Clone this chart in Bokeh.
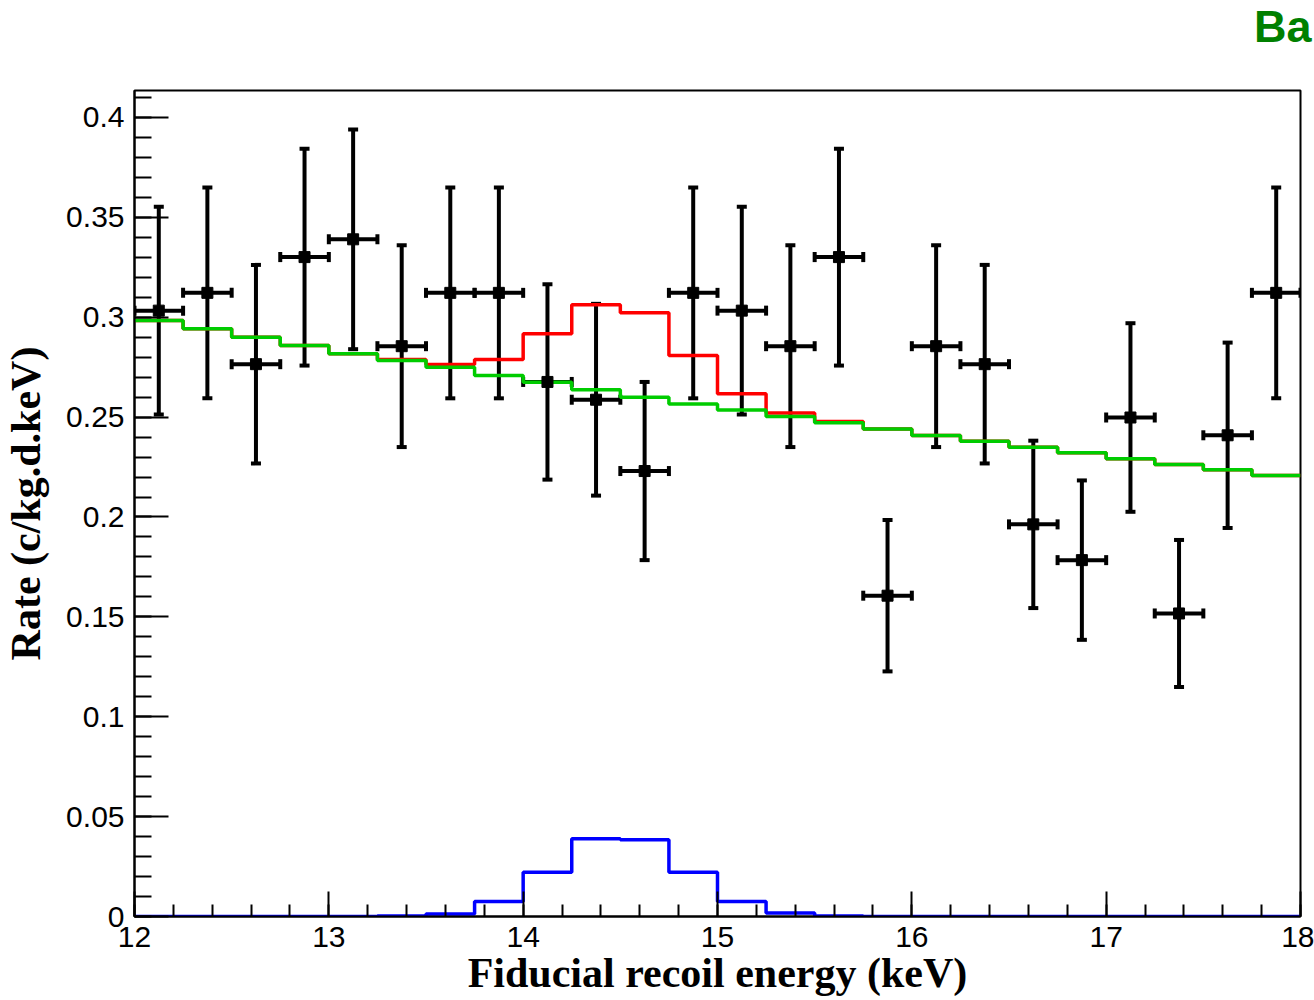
import numpy as np
from bokeh.plotting import figure
from bokeh.models import FixedTicker, Whisker, TeeHead, ColumnDataSource, Range1d, Title
from bokeh.embed import file_html
from bokeh.resources import INLINE

# ---- data ----
energy = [12.125, 12.375, 12.625, 12.875, 13.125, 13.375, 13.625, 13.875,
          14.125, 14.375, 14.625, 14.875, 15.125, 15.375, 15.625, 15.875,
          16.125, 16.375, 16.625, 16.875, 17.125, 17.375, 17.625, 17.875]
rate = [0.3033, 0.3122, 0.2765, 0.3301, 0.3390, 0.2855, 0.3122, 0.3122,
        0.2676, 0.2587, 0.2230, 0.3122, 0.3033, 0.2855, 0.3301, 0.1606,
        0.2855, 0.2765, 0.1963, 0.1784, 0.2498, 0.1517, 0.2409, 0.3122]
rate_err = [0.0520, 0.0528, 0.0497, 0.0543, 0.0550, 0.0505, 0.0528, 0.0528,
            0.0489, 0.0480, 0.0446, 0.0528, 0.0520, 0.0505, 0.0543, 0.0379,
            0.0505, 0.0497, 0.0419, 0.0399, 0.0472, 0.0368, 0.0464, 0.0528]
bin_half = 0.125

bin_edges = [12.0, 12.25, 12.5, 12.75, 13.0, 13.25, 13.5, 13.75, 14.0, 14.25,
             14.5, 14.75, 15.0, 15.25, 15.5, 15.75, 16.0, 16.25, 16.5, 16.75,
             17.0, 17.25, 17.5, 17.75, 18.0]
background = [0.2984, 0.2942, 0.2900, 0.2859, 0.2817, 0.2783, 0.2750, 0.2708,
              0.2675, 0.2637, 0.2600, 0.2566, 0.2536, 0.2503, 0.2472, 0.2440,
              0.2408, 0.2379, 0.2349, 0.2321, 0.2291, 0.2263, 0.2236, 0.2208]
signal = [0.0, 0.0, 0.0, 0.0, 0.0, 0.0003, 0.0013, 0.0075,
          0.0222, 0.0389, 0.0384, 0.0222, 0.0075, 0.0017, 0.0003, 0.0,
          0.0, 0.0, 0.0, 0.0, 0.0, 0.0, 0.0, 0.0]
total = [0.2984, 0.2942, 0.2900, 0.2859, 0.2817, 0.2788, 0.2763, 0.2788,
         0.2917, 0.3062, 0.3022, 0.2808, 0.2617, 0.2520, 0.2478, 0.2440,
         0.2408, 0.2379, 0.2349, 0.2321, 0.2291, 0.2263, 0.2236, 0.2208]

y_major = [0, 0.05, 0.1, 0.15, 0.2, 0.25, 0.3, 0.35, 0.4]
y_major_labels = ["0", "0.05", "0.1", "0.15", "0.2", "0.25", "0.3", "0.35", "0.4"]
y_minor = [round(0.01 * i, 2) for i in range(0, 42)]
x_major = [12, 13, 14, 15, 16, 17, 18]
x_minor = [round(12 + 0.2 * i, 1) for i in range(0, 31)]
title_text = "Ba"

# ---- figure ----
p = figure(width=1314, height=1000, output_backend="svg", toolbar_location=None,
           title=None,
           x_range=Range1d(12, 18), y_range=Range1d(0, 0.4135),
           min_border_left=132, min_border_right=14, min_border_top=90, min_border_bottom=84)
p.background_fill_color = "white"
p.border_fill_color = "white"
p.grid.visible = False
p.outline_line_color = "black"
p.outline_line_width = 2

tick_font = "Liberation Sans"
lab_font = "Liberation Serif"

# spacer panel next to the frame, then the green title fragment above it
p.add_layout(Title(text=" ", text_font_size="2px", standoff=33), "above")
p.add_layout(Title(text=title_text, align="right", offset=-11, vertical_align="top",
                   text_font=tick_font, text_font_style="bold", text_font_size="45px",
                   text_color="#008000", standoff=0), "above")

p.yaxis.ticker = FixedTicker(ticks=y_major, minor_ticks=y_minor)
p.yaxis.major_label_overrides = {t: s for t, s in zip(y_major, y_major_labels)}
p.xaxis.ticker = FixedTicker(ticks=x_major, minor_ticks=x_minor)
for ax in (p.xaxis[0], p.yaxis[0]):
    ax.axis_line_width = 2
    ax.axis_line_color = "black"
    ax.major_tick_out = 0
    ax.minor_tick_out = 0
    ax.major_tick_line_width = 2
    ax.minor_tick_line_width = 2
    ax.major_tick_line_color = "black"
    ax.minor_tick_line_color = "black"
    ax.major_label_text_font = tick_font
    ax.major_label_text_font_size = "30px"
    ax.major_label_text_color = "black"
    ax.axis_label_text_font = lab_font
    ax.axis_label_text_font_style = "bold"
    ax.axis_label_text_color = "black"

p.yaxis.major_tick_in = 34
p.yaxis.minor_tick_in = 17
p.xaxis.major_tick_in = 25
p.xaxis.minor_tick_in = 12
p.yaxis.major_label_standoff = 10
p.xaxis.major_label_standoff = 10
p.yaxis.axis_label = "Rate (c/kg.d.keV)"
p.yaxis.axis_label_text_font_size = "42px"
p.yaxis.axis_label_standoff = 14
p.xaxis.axis_label = "Fiducial recoil energy (keV)"
p.xaxis.axis_label_text_font_size = "42px"
p.xaxis.axis_label_standoff = 0

# ---- histograms ----
p.step(bin_edges, total + [total[-1]], mode="after", line_color="#ff0000", line_width=3.5)
p.step(bin_edges, background + [background[-1]], mode="after", line_color="#00cc00", line_width=3.5)
p.step(bin_edges, signal + [signal[-1]], mode="after", line_color="#0000ff", line_width=3.5)

# ---- data points ----
src = ColumnDataSource(dict(
    x=energy, y=rate,
    ylo=[r - e for r, e in zip(rate, rate_err)],
    yhi=[r + e for r, e in zip(rate, rate_err)],
    xlo=[x - bin_half for x in energy],
    xhi=[x + bin_half for x in energy],
))
vw = Whisker(source=src, base="x", lower="ylo", upper="yhi", dimension="height",
             line_color="black", line_width=4,
             lower_head=TeeHead(size=10, line_width=4, line_color="black"),
             upper_head=TeeHead(size=10, line_width=4, line_color="black"))
hw = Whisker(source=src, base="y", lower="xlo", upper="xhi", dimension="width",
             line_color="black", line_width=4,
             lower_head=TeeHead(size=10, line_width=4, line_color="black"),
             upper_head=TeeHead(size=10, line_width=4, line_color="black"))
p.add_layout(vw)
p.add_layout(hw)
p.scatter("x", "y", source=src, marker="square", size=11, fill_color="black", line_color="black")

open("out.html", "w").write(file_html(p, INLINE))
